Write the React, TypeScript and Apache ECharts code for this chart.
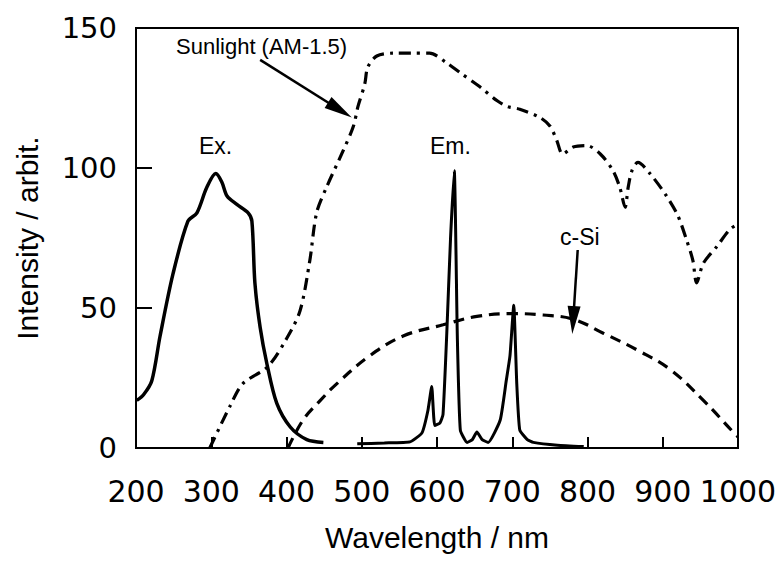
import React, { useEffect, useRef } from "react";
import * as echarts from "echarts";

// Excitation spectrum (Ex.)
const exWavelength = [201, 210, 221, 232, 249, 269, 281, 294, 306, 314, 321, 334, 349, 354, 358, 365, 374, 387, 405, 427, 449];
const exIntensity = [17, 19, 24, 40, 62, 81, 84, 93, 98, 95, 90, 87, 84, 81, 59, 43, 30, 16, 7.5, 3, 2];

// Emission spectrum (Em.)
const emWavelength = [494, 530, 564, 580, 588, 593, 597, 604, 608, 613, 618, 623, 627, 631, 640, 647, 653, 660, 668, 684, 692, 697, 702, 706, 710, 720, 728, 760, 795];
const emIntensity = [1.5, 1.8, 2.2, 5.4, 13.5, 22, 8, 9, 12, 41, 75, 99, 40, 6.4, 2, 3, 5.7, 3, 2, 10, 24, 33, 51, 23, 6.4, 3, 2, 1, 0.5];

// Sunlight (AM-1.5)
const sunWavelength = [298, 325, 342, 375, 400, 418, 431, 440, 453, 475, 489, 495, 504, 508, 520, 542, 565, 590, 613, 631, 657, 680, 693, 710, 737, 750, 759, 767, 781, 799, 817, 834, 843, 850, 854, 859, 867, 883, 905, 920, 932, 940, 945, 954, 972, 989, 1000];
const sunIntensity = [0, 15, 23, 29, 39, 49, 67, 84, 93, 106, 115, 122, 130, 136, 140, 141, 141, 141, 137.5, 134, 129, 124, 122, 121, 118, 115, 110, 105, 107.5, 108, 105, 99, 93, 86, 93, 99, 102, 98, 90, 83, 74, 67, 59, 66, 72, 78, 80];

// c-Si response
const siWavelength = [402, 422, 445, 467, 511, 555, 608, 653, 701, 741, 781, 821, 866, 910, 954, 996, 1000];
const siIntensity = [0, 10, 17, 23, 33, 40, 44, 47, 48, 47.5, 46, 41, 35, 28, 17, 5, 4];

// Axis ticks
const xMin = 200, xMax = 1000, xStep = 100;
const yMin = 0, yMax = 150, yStep = 50;

// Annotation arrows in data units: [fromX, fromY, toX, toY]
const sunArrow = [365, 138.6, 471, 120.7];
const siArrow = [787, 70.7, 781, 45.7];

const zip = (xs: number[], ys: number[]) => xs.map((x, i) => [x, ys[i]]);

export default function App() {
  const ref = useRef<HTMLDivElement>(null);
  useEffect(() => {
    if (!ref.current) return;
    document.body.style.margin = "0";
    const chart = echarts.init(ref.current, null, { renderer: "svg" });
    const lineBase = { type: "line", showSymbol: false, symbol: "none", silent: true };
    const arrowLine = (a: number[]) => ({
      silent: true,
      symbol: ["none", "triangle"],
      symbolSize: 20,
      label: { show: false },
      lineStyle: { color: "#000", width: 2.5, type: "solid" },
      itemStyle: { color: "#000" },
      data: [[
        { coord: [a[0], a[1]], symbol: "none" },
        { coord: [a[2], a[3]], symbol: "triangle", symbolSize: [13, 28] },
      ]],
    });
    chart.setOption({
      animation: false,
      backgroundColor: "#fff",
      grid: { left: 136, right: 44, top: 28, bottom: 115, show: true, borderColor: "#000", borderWidth: 2 },
      xAxis: {
        type: "value",
        min: xMin,
        max: xMax,
        interval: xStep,
        name: "Wavelength / nm",
        nameLocation: "middle",
        nameGap: 74,
        nameTextStyle: { fontFamily: "Liberation Sans", fontSize: 30, color: "#000" },
        axisLine: { show: true, lineStyle: { color: "#000", width: 2 } },
        axisTick: { show: true, inside: true, length: 11, lineStyle: { color: "#000", width: 2 } },
        axisLabel: { fontFamily: "DejaVu Sans", fontSize: 30, color: "#000", margin: 28, formatter: (v: number) => String(v) },
        splitLine: { show: false },
      },
      yAxis: {
        type: "value",
        min: yMin,
        max: yMax,
        interval: yStep,
        name: "Intensity / arbit.",
        nameLocation: "middle",
        nameGap: 94,
        nameTextStyle: { fontFamily: "Liberation Sans", fontSize: 30, color: "#000" },
        axisLine: { show: true, lineStyle: { color: "#000", width: 2 } },
        axisTick: { show: true, inside: true, length: 16, lineStyle: { color: "#000", width: 2 } },
        axisLabel: { fontFamily: "DejaVu Sans", fontSize: 29, color: "#000", margin: 19, formatter: (v: number) => String(v) },
        splitLine: { show: false },
      },
      graphic: [
        { type: "text", left: 176, top: 35, style: { text: "Sunlight (AM-1.5)", font: "22px 'Liberation Sans'", fill: "#000" } },
        { type: "text", left: 199, top: 134, style: { text: "Ex.", font: "23px 'Liberation Sans'", fill: "#000" } },
        { type: "text", left: 430, top: 134, style: { text: "Em.", font: "23px 'Liberation Sans'", fill: "#000" } },
        { type: "text", left: 560, top: 225, style: { text: "c-Si", font: "23px 'Liberation Sans'", fill: "#000" } },
      ],
      series: [
        {
          ...lineBase,
          name: "Ex.",
          data: zip(exWavelength, exIntensity),
          smooth: 0.3,
          lineStyle: { color: "#000", width: 3.5, type: "solid" },
        },
        {
          ...lineBase,
          name: "Em.",
          data: zip(emWavelength, emIntensity),
          smooth: 0.15,
          lineStyle: { color: "#000", width: 3, type: "solid" },
        },
        {
          ...lineBase,
          name: "Sunlight (AM-1.5)",
          data: zip(sunWavelength, sunIntensity),
          smooth: 0.3,
          lineStyle: { color: "#000", width: 3.2, type: [12, 6, 3, 6] },
          markLine: arrowLine(sunArrow),
        },
        {
          ...lineBase,
          name: "c-Si",
          data: zip(siWavelength, siIntensity),
          smooth: 0.4,
          lineStyle: { color: "#000", width: 3.2, type: [11, 7] },
          markLine: arrowLine(siArrow),
        },
      ],
    });
    return () => chart.dispose();
  }, []);
  return <div ref={ref} style={{ width: 782, height: 563 }} />;
}
